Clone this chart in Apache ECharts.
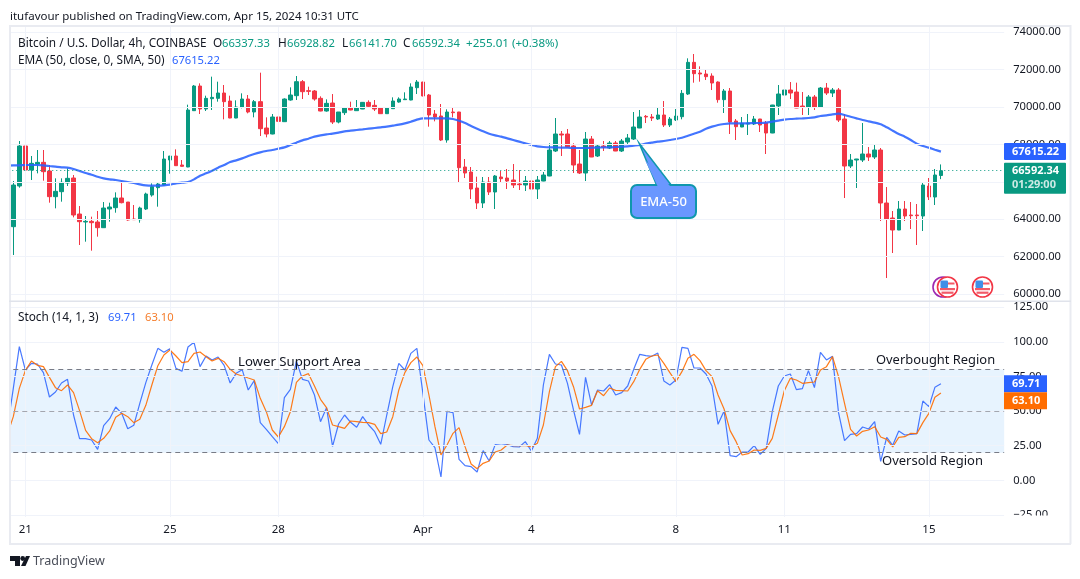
<!DOCTYPE html>
<html><head><meta charset="utf-8">
<style>html,body{margin:0;padding:0;background:#fff}#c{width:1080px;height:579px}</style>
<script src="https://cdn.jsdelivr.net/npm/echarts@6/dist/echarts.min.js"></script>
</head><body><div id="c"></div>
<script>
const FONT = '"Noto Sans", sans-serif';
const tickLabels = {3:'21',27:'25',45:'28',69:'Apr',87:'4',111:'8',129:'11',153:'15'};
const priceTicks = [74000,72000,70000,68000,66000,64000,62000,60000];
const stochTicks = [125,100,75,50,25,0,-25];
const opens = [63600,65775,67914,66630,66951,67040,66577,65205,65472,65936,66203,64277,63850,63885,63850,63547,64545,64616,65134,64919,64010,63975,64545,65293,65686,65828,67165,67379,66898,66791,69803,71122,69893,70445,70463,70748,70320,69411,69999,70427,69732,70285,68877,68556,69465,69215,70374,70605,71354,70873,70855,70463,69785,70213,69197,
69696,69946,69803,69893,70249,70089,69946,69643,69910,70267,70392,70374,71033,71336,70641,69625,69518,68235,69732,69732,66791,66523,65668,64866,65989,65454,66256,66203,66096,65882,65828,66042,65615,66042,66310,67647,68556,68556,67914,66951,66470,68288,67379,67914,67807,68074,67647,68128,68288,68877,69500,69465,69358,69572,69037,69304,
69482,70695,72388,71818,71764,71657,71336,70392,70855,69251,68930,69090,69090,69358,69144,68609,70053,70641,70908,70801,70053,69999,70534,69999,71015,70748,70908,69358,66844,67165,67165,67486,67326,67700,64866,64064,63422,64545,64224,64224,64171,65775,65187,66337.33];
const closes = [65828,67914,66630,66987,67040,66541,65205,65490,65971,66185,64224,63868,63885,63814,63547,64598,64652,65134,64884,63957,63975,64598,65347,65739,65882,67219,67379,66862,66826,69839,71122,69893,70463,70516,70748,70285,69411,69999,70427,69732,70285,68841,68556,69465,69233,70427,70641,71354,70819,70837,70427,69785,70196,69197,69732,
69946,69839,69946,70249,70035,69893,69643,69946,70320,70427,70427,71069,71336,70588,69572,69465,68235,69732,69696,66755,66470,65615,64866,65989,65454,66310,66167,66042,65828,65846,66042,65615,66096,66363,67700,68556,68502,67860,66898,66470,68288,67326,67914,67860,68074,67647,68181,68342,68930,69465,69465,69411,69572,69037,69358,69518,
70730,72388,71782,71764,71622,71283,70392,70855,69197,68948,69126,69144,69358,69037,68609,70106,70695,70908,70748,69946,69999,70534,69999,71015,70748,70908,69304,66844,67165,67219,67486,67326,67700,64866,64010,63422,64545,64171,64189,64189,65828,65187,66363,66592.34];
const lows = [62085,65686,66600,66096,66452,66060,64884,64581,64937,65775,64099,62620,62798,62317,63066,63530,63868,64349,64848,63921,63960,63814,64491,65205,64670,65810,66434,66845,66809,66780,69790,69625,69786,69839,70285,69340,69400,69400,69928,69661,69447,68449,68377,68540,68859,69200,70338,70374,70427,70641,70338,69770,69750,69090,69126,
69572,69825,69790,69885,69982,69785,69625,69625,69900,70231,70374,70360,70695,70575,68948,69233,68181,68092,69447,65989,66203,65080,64545,64598,65293,64545,65989,65615,65668,65561,65508,65561,65080,66030,66300,67593,67379,67850,66470,66417,66042,67320,67326,67647,67753,67640,67593,67967,68235,68870,69144,69251,69304,68930,68930,69251,
69340,70641,71300,71354,71443,70908,70231,69679,68556,68235,68920,68502,69037,68663,67486,68600,69572,70320,70427,69940,69572,69572,69839,69990,70641,70534,69197,65133,66737,65668,67058,67112,67219,63903,60855,62192,63415,63903,63475,62620,63369,65026,64759,66141.70];
const highs = [66042,68181,68288,67379,67700,67700,66898,66185,66185,66720,66363,64705,64171,64135,64438,64919,64884,65436,66042,64919,64759,64670,65418,65917,65953,67647,67379,67736,67165,70124,71176,71265,70605,71622,71354,71176,70605,70356,70730,70641,70374,71835,69447,69625,70017,70463,71051,71657,71443,71087,70908,70570,70409,70693,69732,
69982,70285,70374,70260,70356,70374,69999,69955,70516,70516,70784,71265,71443,71345,70695,69839,70160,69875,69982,69740,67219,66791,66274,66256,66256,66363,66577,66684,66951,66630,66310,66417,66310,66523,68057,69411,68716,68823,68057,67700,68663,68449,68021,68181,68181,68181,68288,68556,69732,69839,69572,69625,69946,70320,69465,69893,
70908,72602,72834,72174,72014,71800,71372,70962,71015,69358,69465,69625,69518,69365,69251,70115,71176,71176,71336,71301,70801,70641,70641,71069,71283,71015,71015,69625,67486,67225,69144,67860,68021,67807,65721,64438,64973,64973,64919,64813,65935,66203,66684,66928.82];
const ema = [66870,66880,66880,66898,66898,66898,66880,66844,66809,66773,66755,66684,66577,66470,66381,66274,66185,66131,66096,66042,65989,65935,65864,65810,65793,65793,65810,65846,65917,65953,65989,66131,66327,66452,66595,66755,66898,67058,67147,67254,67379,67486,67575,67647,67700,67771,67842,67967,68092,68217,68306,68413,68484,68538,68573,68627,
68698,68734,68770,68805,68841,68877,68912,68948,69001,69055,69126,69215,69322,69393,69393,69393,69393,69393,69358,69269,69144,68983,68841,68698,68573,68484,68413,68324,68235,68146,68057,67967,67896,67860,67842,67842,67825,67825,67807,67807,67807,67825,67825,67842,67842,67860,67878,67896,67932,67967,68039,68092,68146,68182,68235,68288,
68359,68466,68573,68680,68841,68948,69037,69090,69126,69126,69126,69126,69144,69144,69162,69215,69269,69322,69358,69376,69393,69411,69447,69518,69554,69607,69643,69572,69482,69393,69304,69233,69162,69073,68912,68734,68556,68413,68235,68039,67914,67825,67718,67615.22];
const stochK = [37.10,66.46,96.56,79.70,84.52,84.03,77.78,60.20,63.81,70.31,72.96,47.19,30.10,30.10,29.13,22.39,39.49,44.55,52.97,48.40,37.32,39.73,55.62,70.55,83.31,95.35,92.46,95.11,80.90,78.74,96.32,99.69,82.11,89.82,86.93,89.09,83.07,70.31,77.29,79.94,65.25,71.99,41.66,36.84,31.54,26.49,59.72,65.74,86.20,72.96,71.76,61.64,42.38,52.49,24.56,40.69,
47.19,41.90,38.29,45.99,39.97,35.15,26.00,47.19,67.66,84.52,79.70,91.74,95.35,62.85,29.13,23.60,2.40,49.84,48.88,15.17,10.59,9.87,6.01,21.43,13.96,25.76,25.28,25.76,24.32,24.08,27.93,21.19,30.34,68.87,91.02,84.03,83.31,70.07,50.81,33.23,74.40,54.42,65.25,64.53,69.11,61.64,63.33,68.14,80.18,91.02,90.06,89.57,91.98,71.76,68.87,72.48,
96.08,95.35,81.15,81.15,76.81,68.14,40.45,50.08,17.82,17.09,20.46,20.46,25.04,18.78,23.11,49.60,68.14,75.37,76.81,65.50,66.22,79.22,66.94,92.46,86.93,89.57,48.88,28.65,33.23,33.71,38.52,37.08,42.38,13.72,31.06,25.28,35.64,32.75,33.23,33.71,57.31,53.21,67.18,69.71];
const stochD = [32.80,45.99,66.46,79.22,86.20,83.07,82.11,74.40,66.94,64.77,68.87,63.33,50.32,36.12,30.10,27.21,30.34,35.64,45.51,48.40,45.99,41.66,44.06,54.18,68.87,82.83,90.54,94.15,89.82,85.00,85.72,91.74,92.71,89.33,86.20,88.13,85.72,80.18,76.81,75.37,73.92,72.48,59.23,49.60,36.36,31.30,38.76,49.60,70.79,75.37,77.05,68.14,58.51,52.49,39.97,38.76,
37.56,42.86,42.38,41.90,41.66,40.45,33.71,34.91,45.99,65.25,77.78,85.00,89.09,82.83,61.64,38.76,18.30,25.52,33.95,38.04,24.32,11.80,8.42,12.28,13.96,20.46,21.91,25.52,25.04,25.04,25.28,24.08,26.72,39.97,64.05,82.11,85.96,79.22,67.66,51.53,52.73,54.18,64.77,61.16,66.70,65.01,64.77,64.53,71.27,80.18,87.41,89.82,90.54,84.52,77.78,71.27,
78.50,88.13,91.02,86.44,79.22,74.88,61.64,51.53,35.88,27.93,18.30,19.26,21.91,21.67,23.11,30.34,47.19,64.77,73.68,72.48,70.07,70.55,71.03,79.70,82.11,89.33,74.88,55.62,36.84,32.03,35.40,36.36,38.76,31.30,29.62,24.08,31.06,31.54,33.95,33.71,41.66,48.40,59.96,63.10];
const stochLevels = {upper:80, middle:50, lower:20};
const lastPrice = 66592.34, lastEma = 67615.22, lastK = 69.71, lastD = 63.10;

const slots = 166;
const categories = Array.from({length:slots},(_,i)=>String(i));
const candleData = ['-'].concat(opens.map((o,i)=>[o,closes[i],lows[i],highs[i]]));
const tickSlots = Object.keys(tickLabels).map(Number);
const GRID='#f0f3fa', GREEN='#089981', RED='#f23645', BLUE='#2962ff', ORANGE='#ff6d00', INK='#131722';

const vLines = tickSlots.map(i=>({xAxis:String(i)}));
const xBase = {type:'category',data:categories,boundaryGap:true,axisLine:{show:false},axisTick:{show:false},splitLine:{show:false}};
const yLabel = {color:INK,fontSize:11.2,fontFamily:FONT,margin:9};
const chart = echarts.init(document.getElementById('c'),null,{renderer:'canvas'});
chart.setOption({
  animation:false,
  textStyle:{fontFamily:FONT},
  grid:[{left:4.27,top:27,width:999.9,height:274},{left:4.27,top:302,width:999.9,height:215}],
  xAxis:[
    {...xBase,gridIndex:0,axisLabel:{show:false}},
    {...xBase,gridIndex:1,axisLabel:{show:true,color:INK,fontSize:11.5,fontFamily:FONT,margin:7,hideOverlap:false,
      interval:(i)=>tickSlots.includes(i),formatter:(v,i)=>tickLabels[i]||''}}
  ],
  yAxis:[
    {type:'value',gridIndex:0,position:'right',min:59626,max:74278,
     axisLine:{show:false},axisTick:{show:false},splitLine:{show:false},
     axisLabel:{...yLabel,customValues:priceTicks,formatter:v=>v.toFixed(2)}},
    {type:'value',gridIndex:1,position:'right',min:-26.5,max:128.83,
     axisLine:{show:false},axisTick:{show:false},splitLine:{show:false},
     axisLabel:{...yLabel,customValues:stochTicks,formatter:v=>v.toFixed(2).replace('-','\u2212')}}
  ],
  series:[
    {type:'line',name:'gridUp',xAxisIndex:0,yAxisIndex:0,data:[],z:0,silent:true,
     markLine:{silent:true,symbol:'none',animation:false,label:{show:false},lineStyle:{color:GRID,width:1,type:'solid'},
       data:vLines.concat(priceTicks.map(v=>({yAxis:v})))}},
    {type:'candlestick',name:'BTCUSD',xAxisIndex:0,yAxisIndex:0,data:candleData,barWidth:4,z:3,
     itemStyle:{color:GREEN,color0:RED,borderColor:GREEN,borderColor0:RED,borderWidth:1},
     markLine:{silent:true,symbol:'none',animation:false,label:{show:false},
       lineStyle:{color:GREEN,width:1,type:[1,3]},data:[{yAxis:lastPrice}]}},
    {type:'line',name:'EMA',xAxisIndex:0,yAxisIndex:0,data:ema,showSymbol:false,symbol:'none',smooth:0.2,z:4,
     lineStyle:{color:BLUE,width:2.2,opacity:.88}},
    {type:'line',name:'gridLow',xAxisIndex:1,yAxisIndex:1,data:[],z:0,silent:true,
     markLine:{silent:true,symbol:'none',animation:false,label:{show:false},lineStyle:{color:GRID,width:1,type:'solid'},
       data:vLines.concat(stochTicks.map(v=>({yAxis:v})))}},
    {type:'line',name:'band',xAxisIndex:1,yAxisIndex:1,data:[],z:1,silent:true,
     markArea:{silent:true,animation:false,itemStyle:{color:'rgba(33,150,243,0.11)'},label:{show:false},
       data:[[{yAxis:stochLevels.upper},{yAxis:stochLevels.lower}]]},
     markLine:{silent:true,symbol:'none',animation:false,label:{show:false},
       lineStyle:{color:'#787b86',width:1,type:[5,4]},
       data:[{yAxis:stochLevels.upper},{yAxis:stochLevels.lower},{yAxis:stochLevels.middle,lineStyle:{color:'#a3a6af',width:1,type:[5,4]}}]}},
    {type:'line',name:'%K',xAxisIndex:1,yAxisIndex:1,data:stochK,showSymbol:false,symbol:'none',z:3,lineStyle:{color:BLUE,width:1.2,opacity:.85}},
    {type:'line',name:'%D',xAxisIndex:1,yAxisIndex:1,data:stochD,showSymbol:false,symbol:'none',z:4,lineStyle:{color:ORANGE,width:1.2,opacity:.9}}
  ]
});

const py = (v)=>chart.convertToPixel({yAxisIndex:0},v);
const sy = (v)=>chart.convertToPixel({yAxisIndex:1},v);
const T=(x,y,text,fill,size,extra)=>({type:'text',z:50,silent:true,style:Object.assign({x,y:y+1.5,text,fill:fill||INK,font:(size||11.8)+'px '+FONT,textVerticalAlign:'middle'},extra||{})});
const R=(x,y,w,h,fill,z,r)=>({type:'rect',z:z||40,silent:true,shape:{x,y,width:w,height:h,r:r||0},style:{fill}});
const N=11.2, BF='bold 11px '+FONT;
const els=[];
els.push(R(0,26,10,520,'#fff',40));
els.push(R(1004,515.5,64,12,'#fff',45));
const FR='#e9ebf1';
els.push(R(9,25,1062,2,FR,46),R(9,25,2,519,FR,46),R(1069.5,25,2,519,FR,46),R(9,543,1062,2,FR,46),R(9,300.5,1062,1.5,'#e0e3eb',46));
els.push(T(10,15,'itufavour published on TradingView.com, Apr 15, 2024 10:31 UTC',INK,11.5));
els.push(T(18,42,'Bitcoin / U.S. Dollar, 4h, COINBASE'));
[['O',213,222,'66337.33'],['H',278,287,'66928.82'],['L',342,349,'66141.70'],['C',403,412,'66592.34']].forEach(([k,x,x2,v])=>{
  els.push(T(x,42,k)); els.push(T(x2,42,v,GREEN,N));
});
els.push(T(466,42,'+255.01 (+0.38%)',GREEN,11.6));
els.push(T(18,59,'EMA (50, close, 0, SMA, 50)'));
els.push(T(172,59,'67615.22',BLUE,N));
els.push(T(18,316,'Stoch (14, 1, 3)'));
els.push(T(108,316,lastK.toFixed(2),BLUE,N));
els.push(T(145,316,lastD.toFixed(2),'#f57c2a',N));
const bY=py(lastEma), gY=py(lastPrice);
els.push(R(1004,bY-8.5,62,17,BLUE,42,1), T(1012,bY-1,lastEma.toFixed(2),'#fff',11,{font:BF}));
els.push(R(1004,gY-8,62,31,GREEN,42,1), T(1012,gY-1,lastPrice.toFixed(2),'#fff',11,{font:BF}), T(1012,gY+13,'01:29:00','rgba(255,255,255,.8)',11,{font:BF}));
const kY=sy(lastK);
els.push(R(1004,kY-8.5,43,17,BLUE,42), T(1012,kY-1,lastK.toFixed(2),'#fff',11,{font:BF}));
els.push(R(1004,kY+8.5,43,17,ORANGE,42), T(1012,kY+16,lastD.toFixed(2),'#fff',11,{font:BF}));
els.push(T(238,361,'Lower Support Area',INK,13.2));
els.push(T(876,359,'Overbought Region',INK,12.9));
els.push(T(882,460,'Oversold Region',INK,13));
els.push({type:'polygon',z:46,silent:true,shape:{points:[[639,143],[657,186],[672,186]]},style:{fill:'#6a97ff',stroke:'#0f97ad',lineWidth:1.5}});
els.push({type:'rect',z:47,silent:true,shape:{x:631,y:185,width:65,height:33,r:6},style:{fill:'#6a97ff',stroke:'#0f97ad',lineWidth:2}});
els.push({type:'polygon',z:48,silent:true,shape:{points:[[645,160],[658,187],[671,187]]},style:{fill:'#6a97ff'}});
els.push(T(663.5,200.5,'EMA-50','#fff',13,{textAlign:'center',font:'500 13px '+FONT}));
function flag(cx,cy){
  els.push({type:'circle',z:44,silent:true,shape:{cx,cy,r:10},style:{fill:'#fff',stroke:'#f23645',lineWidth:1.6}});
  els.push({type:'rect',z:44,silent:true,shape:{x:cx-7.5,y:cy+1,width:15,height:2.2},style:{fill:'#f25a68'}});
  els.push({type:'rect',z:44,silent:true,shape:{x:cx-6,y:cy+4.6,width:12,height:2.2},style:{fill:'#f25a68'}});
  els.push({type:'rect',z:44,silent:true,shape:{x:cx-1,y:cy-4.5,width:8,height:2},style:{fill:'#f25a68'}});
  els.push({type:'rect',z:45,silent:true,shape:{x:cx-7,y:cy-6.5,width:7.5,height:7.5,r:1},style:{fill:'#3f8fe8'}});
}
els.push({type:'circle',z:43,silent:true,shape:{cx:943,cy:287,r:10},style:{fill:'#fff',stroke:'#9c27b0',lineWidth:1.6}});
flag(947.5,287); flag(982.5,287);
els.push({type:'polygon',z:44,silent:true,shape:{points:[[10,556],[20,556],[20,566],[15,566],[15,561],[10,561]]},style:{fill:INK}});
els.push({type:'circle',z:44,silent:true,shape:{cx:22.7,cy:558.5,r:2.4},style:{fill:INK}});
els.push({type:'polygon',z:44,silent:true,shape:{points:[[21,566],[26,556],[30,556],[25.5,566]]},style:{fill:INK}});
els.push(T(33,560,'TradingView','#4a4e59',12.5));
chart.setOption({graphic:{elements:els}});
</script></body></html>
